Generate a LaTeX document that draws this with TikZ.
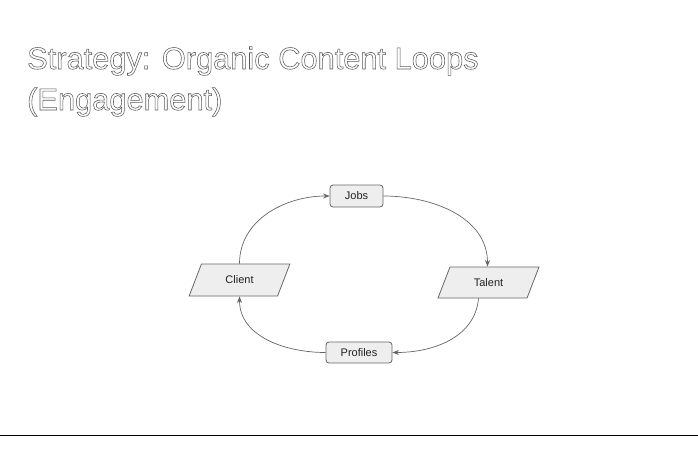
\documentclass[tikz,border=0pt]{standalone}
\usepackage{fontspec}
\setmainfont{Liberation Sans}
\usetikzlibrary{shapes.geometric,arrows.meta}
\definecolor{edgegray}{HTML}{666666}
\definecolor{boxfill}{HTML}{EEEEEE}
\definecolor{labeltext}{HTML}{222222}
\newcommand{\hollowtext}[1]{\special{pdf:code q 1 Tr 0.55 w 0.35 G}#1\special{pdf:code Q}}
\begin{document}
\begin{tikzpicture}[x=1pt,y=1pt,
  boxbase/.style={draw=edgegray,fill=boxfill,line width=0.8pt,text=labeltext,font=\fontsize{11}{13}\selectfont,inner sep=0pt},
  roundbox/.style={boxbase,rounded corners=3pt},
  slantbox/.style={boxbase,trapezium,trapezium left angle=60.6,trapezium right angle=119.4,trapezium stretches=true,minimum width=101pt,minimum height=32pt},
  titletext/.style={anchor=base west,inner sep=0pt,font=\fontsize{30.8}{42}\selectfont},
  flow/.style={draw=edgegray,line width=0.7pt,-{Stealth[length=6.5pt,width=5pt]}}]
\useasboundingbox (0,0) rectangle (698,-456);
\node[titletext] (title1) at (27,-69) {\hollowtext{Strategy: Organic Content Loops}};
\node[titletext] (title2) at (27,-110) {\hollowtext{(Engagement)}};
\node[roundbox,minimum width=53pt,minimum height=22pt] (jobs) at (356.5,-196) {Jobs};
\node[slantbox] (client) at (239.5,-280) {Client};
\node[slantbox,minimum height=31pt] (talent) at (488.5,-282.5) {Talent};
\node[roundbox,minimum width=66pt,minimum height=21pt] (profiles) at (359,-352.5) {Profiles};
\draw[flow] (client.north) to[out=90,in=180] (jobs.west);
\draw[flow] (jobs.east) to[out=0,in=90] ([xshift=-1pt]talent.north);
\draw[flow] ([xshift=-10pt]talent.south) to[out=-95,in=0] (profiles.east);
\draw[flow] (profiles.west) to[out=180,in=-90] (client.south);
\coordinate (lineL) at (0,-435.5);
\coordinate (lineR) at (698,-435.5);
\draw[black,line width=1pt] (lineL) -- (lineR);
\end{tikzpicture}
\end{document}
